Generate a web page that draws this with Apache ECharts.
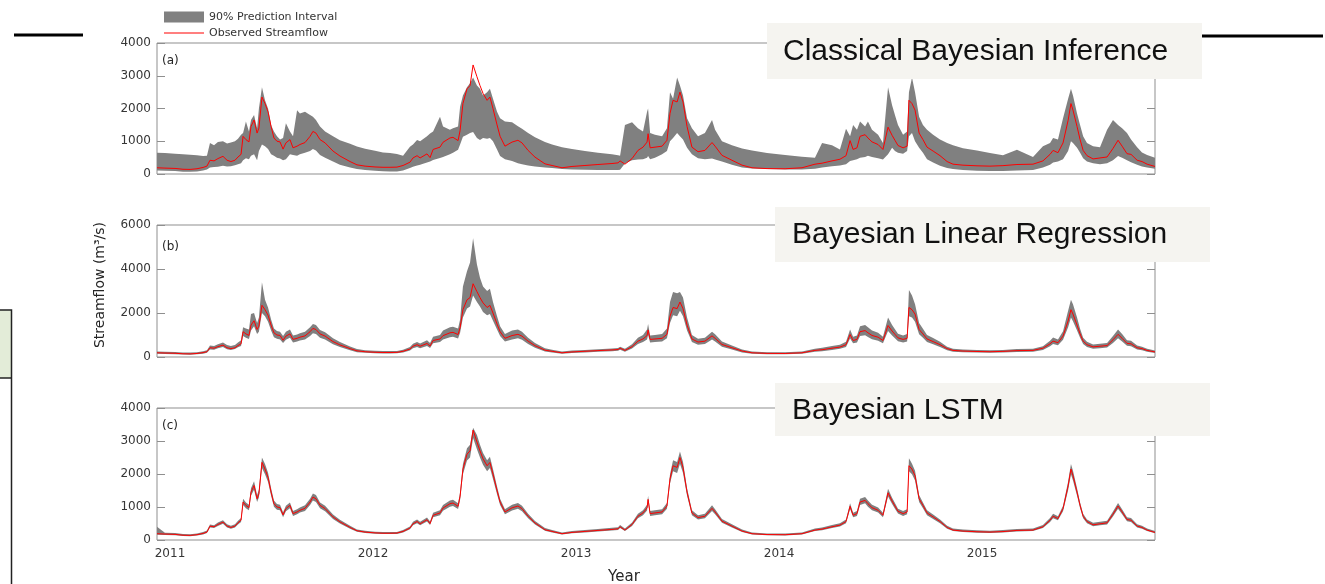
<!DOCTYPE html>
<html>
<head>
<meta charset="utf-8">
<script src="https://cdn.jsdelivr.net/npm/echarts@6/dist/echarts.min.js"></script>
<style>
  html, body { margin: 0; padding: 0; background: #ffffff; }
  #chart { width: 1325px; height: 584px; }
</style>
</head>
<body>
<div id="chart"></div>
<script>
// Sample dates (decimal years), shared by every series
const years = [
  2010.936, 2010.975, 2011.025, 2011.064, 2011.099, 2011.133, 2011.163, 2011.182, 2011.197, 2011.217,
  2011.236, 2011.261, 2011.281, 2011.300, 2011.320, 2011.335, 2011.350, 2011.360, 2011.374, 2011.389,
  2011.399, 2011.414, 2011.429, 2011.438, 2011.453, 2011.468, 2011.483, 2011.498, 2011.512, 2011.527,
  2011.542, 2011.557, 2011.571, 2011.591, 2011.606, 2011.626, 2011.640, 2011.665, 2011.690, 2011.704,
  2011.719, 2011.739, 2011.764, 2011.803, 2011.837, 2011.887, 2011.921, 2011.961, 2012.010, 2012.049,
  2012.084, 2012.118, 2012.148, 2012.182, 2012.197, 2012.217, 2012.232, 2012.266, 2012.281, 2012.296,
  2012.330, 2012.345, 2012.379, 2012.394, 2012.419, 2012.429, 2012.443, 2012.463, 2012.478, 2012.493,
  2012.512, 2012.527, 2012.542, 2012.562, 2012.576, 2012.591, 2012.611, 2012.626, 2012.650, 2012.685,
  2012.714, 2012.734, 2012.764, 2012.798, 2012.847, 2012.882, 2012.931, 2012.980, 2013.044, 2013.108,
  2013.177, 2013.207, 2013.217, 2013.241, 2013.276, 2013.305, 2013.330, 2013.350, 2013.355, 2013.365,
  2013.389, 2013.424, 2013.448, 2013.463, 2013.478, 2013.498, 2013.512, 2013.527, 2013.547, 2013.571,
  2013.601, 2013.635, 2013.670, 2013.685, 2013.719, 2013.768, 2013.818, 2013.867, 2013.941, 2014.030,
  2014.113, 2014.177, 2014.212, 2014.261, 2014.300, 2014.330, 2014.350, 2014.365, 2014.384, 2014.399,
  2014.424, 2014.438, 2014.458, 2014.488, 2014.512, 2014.537, 2014.557, 2014.571, 2014.586, 2014.611,
  2014.631, 2014.640, 2014.655, 2014.670, 2014.690, 2014.709, 2014.729, 2014.759, 2014.793, 2014.828,
  2014.857, 2014.906, 2014.975, 2015.039, 2015.103, 2015.172, 2015.251, 2015.300, 2015.335, 2015.350,
  2015.374, 2015.399, 2015.424, 2015.438, 2015.448, 2015.468, 2015.483, 2015.498, 2015.517, 2015.547,
  2015.581, 2015.616, 2015.645, 2015.670, 2015.690, 2015.714, 2015.734, 2015.764, 2015.788, 2015.813,
  2015.852
];

// Observed streamflow (m3/s)
const observed = [
  190, 180, 170, 145, 140, 160, 200, 240, 420, 400,
  470, 540, 420, 380, 420, 520, 600, 1150, 1050, 980,
  1450, 1650, 1250, 1400, 2350, 2150, 1900, 1450, 1100, 1000,
  980, 760, 950, 1050, 800, 850, 900, 960, 1150, 1300,
  1250, 1050, 950, 700, 550, 380, 280, 240, 215, 205,
  205, 210, 260, 360, 490, 560, 490, 615, 500, 750,
  820, 970, 1100, 1120, 1020, 1330, 2150, 2600, 2700, 3330,
  2970, 2700, 2460, 2250, 2350, 2000, 1500, 1150, 850, 975,
  1030, 950, 720, 515, 310, 260, 190, 230, 260, 290,
  320, 340, 400, 300, 470, 720, 820, 975, 1230, 800,
  820, 850, 1030, 1850, 2250, 2200, 2500, 2200, 1450, 820,
  680, 720, 960, 850, 570, 420, 270, 190, 165, 160,
  190, 300, 330, 400, 450, 560, 1020, 750, 800, 1150,
  1200, 1100, 980, 900, 750, 1430, 1180, 1030, 870, 800,
  850, 2250, 2150, 1950, 1250, 1050, 820, 700, 560, 380,
  300, 270, 250, 240, 255, 290, 300, 400, 600, 720,
  650, 950, 1640, 2150, 1950, 1450, 1050, 720, 560, 460,
  490, 520, 780, 1030, 850, 620, 600, 420, 380, 300,
  230
];

// (a) Classical Bayesian inference: 90% interval bounds
const aUpper = [
  650, 640, 620, 600, 585, 570, 550, 560, 950, 880,
  980, 1000, 930, 960, 1000, 1080, 1200, 1250, 1600, 1300,
  1650, 1800, 1400, 2000, 2650, 2250, 2000, 1500, 1300, 1150,
  1050, 1100, 1550, 1300, 1150, 1950, 1850, 1900, 1800, 1750,
  1650, 1450, 1300, 1150, 1030, 920, 840, 770, 710, 660,
  640, 610, 560, 830, 900, 1040, 1000, 1150, 1240, 1300,
  1750, 1450, 1350, 1400, 1450, 2050, 2400, 2650, 2770, 2950,
  2700, 2600, 2400, 2500, 2600, 2300, 1900, 1700, 1600, 1580,
  1460, 1380, 1250, 1120, 980, 900, 820, 760, 700, 650,
  600, 570, 560, 1500, 1580, 1400, 1300, 1900, 2000, 1250,
  1200, 1150, 1400, 2500, 2300, 2950, 2700, 2400, 1700, 1400,
  1150, 1250, 1650, 1350, 1000, 880, 780, 720, 640, 580,
  530, 500, 950, 880, 750, 1380, 1150, 1500, 1350, 1600,
  1450, 1600, 1350, 1200, 950, 2650, 2100, 1800, 1500, 1200,
  1300, 2500, 2950, 2500, 1750, 1500, 1350, 1200, 1050, 950,
  880, 790, 720, 640, 570, 740, 520, 850, 950, 1100,
  1050, 1700, 2300, 2600, 2400, 1850, 1500, 1150, 950, 850,
  820, 1350, 1650, 1500, 1400, 1250, 1050, 820, 660, 580,
  500
];
const aLower = [
  110, 100, 90, 70, 70, 80, 110, 140, 200, 210,
  220, 250, 230, 240, 270, 300, 330, 420, 480, 450,
  560, 600, 420, 700, 900, 850, 760, 600, 560, 500,
  470, 420, 450, 600, 580, 560, 600, 650, 700, 760,
  720, 580, 500, 380, 280, 200, 150, 120, 100, 85,
  80, 80, 110, 180, 220, 260, 280, 350, 380, 430,
  490, 520, 600, 650, 740, 900, 1140, 1200, 1250, 1280,
  1100, 1040, 1100, 1080, 1100, 1000, 750, 550, 450, 400,
  330, 300, 260, 230, 200, 180, 150, 140, 130, 125,
  120, 120, 130, 320, 420, 440, 450, 500, 550, 450,
  500, 600, 700, 1000, 1100, 1250, 1150, 1050, 800, 600,
  480, 450, 470, 440, 380, 280, 200, 170, 150, 140,
  140, 160, 200, 240, 260, 300, 400, 420, 450, 500,
  520, 560, 520, 480, 440, 600, 800, 700, 650, 620,
  700, 1150, 1250, 1000, 800, 650, 450, 350, 250, 180,
  150, 120, 100, 90, 90, 110, 120, 200, 280, 350,
  380, 450, 700, 1000, 950, 800, 650, 480, 380, 330,
  300, 330, 420, 550, 500, 420, 360, 280, 230, 200,
  160
];

// (b) Bayesian linear regression: 90% interval bounds
const bUpper = [
  250, 240, 230, 210, 200, 220, 260, 310, 520, 500,
  580, 660, 540, 500, 540, 660, 760, 1350, 1300, 1250,
  1950, 2000, 1550, 1800, 3400, 2600, 2250, 1700, 1300, 1180,
  1150, 950, 1150, 1250, 980, 1020, 1080, 1150, 1350, 1500,
  1450, 1230, 1120, 850, 680, 480, 360, 310, 280, 270,
  270, 275, 330, 450, 600, 680, 610, 760, 640, 920,
  1000, 1200, 1350, 1380, 1300, 1700, 3200, 3900, 4300, 5400,
  4200, 3600, 3200, 3000, 3100, 2500, 1850, 1400, 1050, 1200,
  1250, 1150, 880, 640, 400, 330, 250, 290, 320, 350,
  390, 410, 470, 380, 580, 880, 1000, 1250, 1500, 980,
  1000, 1040, 1300, 2500, 2950, 2900, 2950, 2700, 1800, 1000,
  830, 880, 1150, 1030, 700, 520, 340, 250, 220, 215,
  250, 380, 420, 500, 560, 690, 1250, 920, 980, 1400,
  1450, 1350, 1200, 1100, 920, 1800, 1450, 1260, 1060, 980,
  1050, 3050, 2800, 2400, 1550, 1280, 1000, 860, 690, 470,
  370, 340, 320, 310, 320, 360, 370, 490, 740, 890,
  800, 1170, 2100, 2600, 2400, 1800, 1280, 880, 690, 570,
  600, 640, 960, 1250, 1040, 760, 740, 520, 470, 370,
  290
];
const bLower = [
  150, 140, 130, 110, 105, 120, 150, 190, 340, 330,
  400, 450, 350, 320, 360, 440, 500, 950, 880, 820,
  1200, 1400, 1050, 1150, 2000, 1850, 1600, 1200, 900, 830,
  800, 640, 780, 870, 660, 700, 750, 800, 960, 1080,
  1050, 880, 790, 580, 450, 310, 220, 190, 170, 160,
  160, 165, 210, 290, 400, 460, 400, 500, 410, 620,
  680, 800, 900, 920, 840, 1100, 1800, 2200, 2300, 2800,
  2500, 2300, 2050, 1900, 1950, 1650, 1250, 950, 700, 800,
  850, 780, 590, 420, 250, 210, 150, 180, 210, 235,
  260, 280, 330, 240, 390, 590, 680, 800, 1000, 660,
  680, 700, 850, 1550, 1900, 1850, 2100, 1850, 1200, 680,
  560, 590, 800, 700, 470, 340, 210, 150, 125, 120,
  150, 240, 260, 320, 370, 460, 840, 620, 660, 950,
  990, 910, 810, 740, 620, 1180, 980, 850, 720, 660,
  700, 1850, 1800, 1600, 1030, 870, 680, 580, 460, 310,
  240, 215, 200, 190, 200, 230, 240, 320, 490, 590,
  530, 780, 1350, 1800, 1620, 1200, 870, 590, 460, 380,
  400, 430, 640, 850, 700, 510, 490, 340, 310, 240,
  180
];

// (c) Bayesian LSTM: 90% interval bounds
const cUpper = [
  400, 220, 210, 180, 175, 195, 240, 285, 470, 450,
  530, 600, 475, 430, 475, 580, 670, 1250, 1140, 1070,
  1570, 1780, 1360, 1520, 2500, 2300, 2040, 1570, 1200, 1090,
  1070, 840, 1040, 1140, 880, 930, 985, 1050, 1250, 1410,
  1360, 1140, 1040, 770, 610, 430, 320, 280, 250, 240,
  240, 245, 300, 410, 550, 625, 550, 680, 560, 825,
  900, 1060, 1200, 1220, 1110, 1440, 2300, 2780, 2890, 3400,
  3180, 2890, 2640, 2420, 2520, 2150, 1620, 1250, 930, 1065,
  1120, 1040, 795, 575, 360, 300, 225, 270, 300, 335,
  370, 390, 455, 350, 530, 795, 900, 1065, 1340, 880,
  900, 930, 1120, 1990, 2420, 2360, 2680, 2360, 1570, 900,
  750, 795, 1050, 930, 635, 475, 315, 225, 200, 195,
  225, 350, 380, 455, 510, 625, 1110, 825, 880, 1250,
  1300, 1200, 1070, 985, 825, 1550, 1280, 1120, 950, 880,
  930, 2480, 2310, 2100, 1360, 1140, 900, 770, 625, 430,
  350, 315, 295, 280, 300, 335, 350, 455, 670, 795,
  720, 1040, 1770, 2300, 2100, 1570, 1140, 795, 625, 520,
  550, 580, 860, 1120, 930, 690, 670, 475, 430, 350,
  270
];
const cLower = [
  160, 150, 145, 120, 115, 135, 170, 210, 380, 360,
  425, 490, 380, 340, 380, 470, 545, 1060, 965, 900,
  1340, 1520, 1150, 1290, 2180, 1990, 1760, 1340, 1010, 920,
  900, 690, 870, 965, 730, 780, 830, 880, 1060, 1200,
  1150, 965, 870, 640, 500, 340, 250, 210, 190, 180,
  180, 185, 230, 325, 445, 510, 445, 560, 455, 690,
  750, 890, 1010, 1030, 940, 1220, 1990, 2410, 2500, 3090,
  2750, 2500, 2280, 2080, 2180, 1850, 1385, 1060, 780, 895,
  950, 870, 660, 470, 280, 230, 165, 205, 230, 260,
  285, 305, 360, 270, 425, 660, 750, 895, 1130, 730,
  750, 780, 950, 1710, 2080, 2030, 2310, 2030, 1340, 750,
  620, 660, 880, 780, 520, 380, 240, 165, 145, 140,
  165, 270, 295, 360, 410, 510, 940, 690, 730, 1060,
  1110, 1010, 900, 830, 690, 1320, 1090, 950, 800, 730,
  780, 2080, 1990, 1800, 1150, 965, 750, 640, 510, 340,
  270, 240, 220, 210, 225, 260, 270, 360, 545, 660,
  595, 870, 1510, 1990, 1800, 1340, 965, 660, 510, 415,
  445, 470, 715, 950, 780, 565, 545, 380, 340, 270,
  205
];

// Axis and annotation text
const yearTicks = [2011, 2012, 2013, 2014, 2015];
const yMaxes = [4000, 6000, 4000];
const ySteps = [1000, 2000, 1000];
const panelTags = ['(a)', '(b)', '(c)'];
const methodNames = ['Classical Bayesian Inference', 'Bayesian Linear Regression', 'Bayesian LSTM'];
const seriesNames = ['90% Prediction Interval', 'Observed Streamflow'];
const yTitle = 'Streamflow (m³/s)';
const xTitle = 'Year';

// Layout
const X_MIN = 2010.936, X_MAX = 2015.852;
const PLOT_LEFT = 157, PLOT_WIDTH = 998;
const panelLayout = [
  { top: 43, height: 131, tagTop: 55 },
  { top: 225, height: 132, tagTop: 241 },
  { top: 408, height: 132, tagTop: 420 }
];
const methodBoxes = [
  { x: 767, y: 23, w: 435, h: 56, textX: 783, textY: 52 },
  { x: 775, y: 207, w: 435, h: 55, textX: 792, textY: 235 },
  { x: 775, y: 383, w: 435, h: 53, textX: 792, textY: 411 }
];

const FONT = 'DejaVu Sans';
const AXIS_COLOR = '#8f8f8f';
const LABEL_COLOR = '#363636';
const BAND_COLOR = '#808080';
const LINE_COLOR = '#ff0000';

const bands = [[aUpper, aLower], [bUpper, bLower], [cUpper, cLower]];

// Polygon from the upper bound (left to right) back along the lower bound
function bandRenderer(upper, lower) {
  return function (params, api) {
    const pts = [];
    for (let i = 0; i < years.length; i++) pts.push(api.coord([years[i], upper[i]]));
    for (let i = years.length - 1; i >= 0; i--) pts.push(api.coord([years[i], lower[i]]));
    return { type: 'polygon', shape: { points: pts }, style: { fill: BAND_COLOR } };
  };
}

const grids = [], xAxes = [], yAxes = [], series = [], titles = [];
panelLayout.forEach((p, i) => {
  grids.push({
    left: PLOT_LEFT, width: PLOT_WIDTH, top: p.top, height: p.height,
    show: true, borderColor: AXIS_COLOR, borderWidth: 1, backgroundColor: 'transparent'
  });
  xAxes.push({
    type: 'value', gridIndex: i, min: X_MIN, max: X_MAX,
    axisLine: { show: false }, axisTick: { show: false }, splitLine: { show: false },
    axisLabel: i === 2
      ? { customValues: yearTicks, formatter: v => String(Math.round(v)), fontFamily: FONT, fontSize: 12, color: LABEL_COLOR, margin: 8 }
      : { show: false }
  });
  const tick = { show: true, inside: true, length: 8, lineStyle: { color: AXIS_COLOR, width: 1 } };
  yAxes.push({
    type: 'value', gridIndex: i, position: 'left', min: 0, max: yMaxes[i], interval: ySteps[i],
    axisLine: { show: false }, axisTick: tick, splitLine: { show: false },
    axisLabel: { fontFamily: FONT, fontSize: 12, color: LABEL_COLOR, margin: 6, formatter: v => String(v) }
  });
  yAxes.push({
    type: 'value', gridIndex: i, position: 'right', min: 0, max: yMaxes[i], interval: ySteps[i],
    axisLine: { show: false }, axisTick: tick, splitLine: { show: false },
    axisLabel: { show: false }
  });
  series.push({
    type: 'custom', name: seriesNames[0], coordinateSystem: 'cartesian2d',
    xAxisIndex: i, yAxisIndex: 2 * i,
    data: [[years[0], 0]], encode: { x: 0, y: 1 },
    itemStyle: { color: BAND_COLOR }, silent: true, z: 2,
    renderItem: bandRenderer(bands[i][0], bands[i][1])
  });
  series.push({
    type: 'line', name: seriesNames[1], xAxisIndex: i, yAxisIndex: 2 * i,
    data: years.map((t, k) => [t, observed[k]]),
    symbol: 'none', lineStyle: { color: LINE_COLOR, width: 1 }, itemStyle: { color: LINE_COLOR },
    silent: true, z: 3
  });
  titles.push({
    text: panelTags[i], left: 162, top: p.tagTop, padding: 0,
    textStyle: { fontFamily: FONT, fontSize: 12, fontWeight: 'normal', color: '#262626' }
  });
});

const graphics = [];
// Rule segments and side frame
graphics.push({ type: 'line', shape: { x1: 14, y1: 35, x2: 83, y2: 35 }, style: { stroke: '#000', lineWidth: 3 } });
graphics.push({ type: 'line', shape: { x1: 1202, y1: 36, x2: 1323, y2: 36 }, style: { stroke: '#000', lineWidth: 3 } });
graphics.push({ type: 'rect', shape: { x: 0, y: 310, width: 12, height: 68 }, style: { fill: '#e3ecd8' } });
graphics.push({ type: 'polyline', shape: { points: [[0, 310], [11.5, 310], [11.5, 584]] }, style: { stroke: '#222', lineWidth: 1.5, fill: null } });
graphics.push({ type: 'line', shape: { x1: 0, y1: 378, x2: 11.5, y2: 378 }, style: { stroke: '#222', lineWidth: 1.5 } });
// Method name boxes
methodBoxes.forEach((b, i) => {
  graphics.push({ type: 'rect', shape: { x: b.x, y: b.y, width: b.w, height: b.h }, style: { fill: '#f5f4f0' }, z: 10 });
  graphics.push({
    type: 'text', x: b.textX, y: b.textY, z: 11,
    style: { text: methodNames[i], font: '30px "Liberation Sans", Arial, sans-serif', fill: '#111', align: 'left', verticalAlign: 'middle' }
  });
});
// Axis titles
graphics.push({
  type: 'text', x: 100, y: 285, rotation: Math.PI / 2,
  style: { text: yTitle, font: '14px "DejaVu Sans"', fill: '#262626', align: 'center', verticalAlign: 'middle' }
});
graphics.push({
  type: 'text', x: 624, y: 577,
  style: { text: xTitle, font: '15px "DejaVu Sans"', fill: '#262626', align: 'center', verticalAlign: 'middle' }
});

const legendText = { fontFamily: FONT, fontSize: 11, color: '#333', lineHeight: 12 };
const chart = echarts.init(document.getElementById('chart'));
chart.setOption({
  animation: false,
  backgroundColor: '#ffffff',
  textStyle: { fontFamily: FONT },
  title: titles,
  legend: [
    {
      left: 164, top: 11, itemWidth: 40, itemHeight: 11, padding: 0, selectedMode: false,
      textStyle: legendText,
      data: [{ name: seriesNames[0], icon: 'rect' }]
    },
    {
      left: 164, top: 27, itemWidth: 40, itemHeight: 1, padding: 0, selectedMode: false,
      textStyle: legendText,
      data: [{ name: seriesNames[1], icon: 'rect' }]
    }
  ],
  grid: grids,
  xAxis: xAxes,
  yAxis: yAxes,
  series: series,
  graphic: graphics
});
</script>
</body>
</html>
